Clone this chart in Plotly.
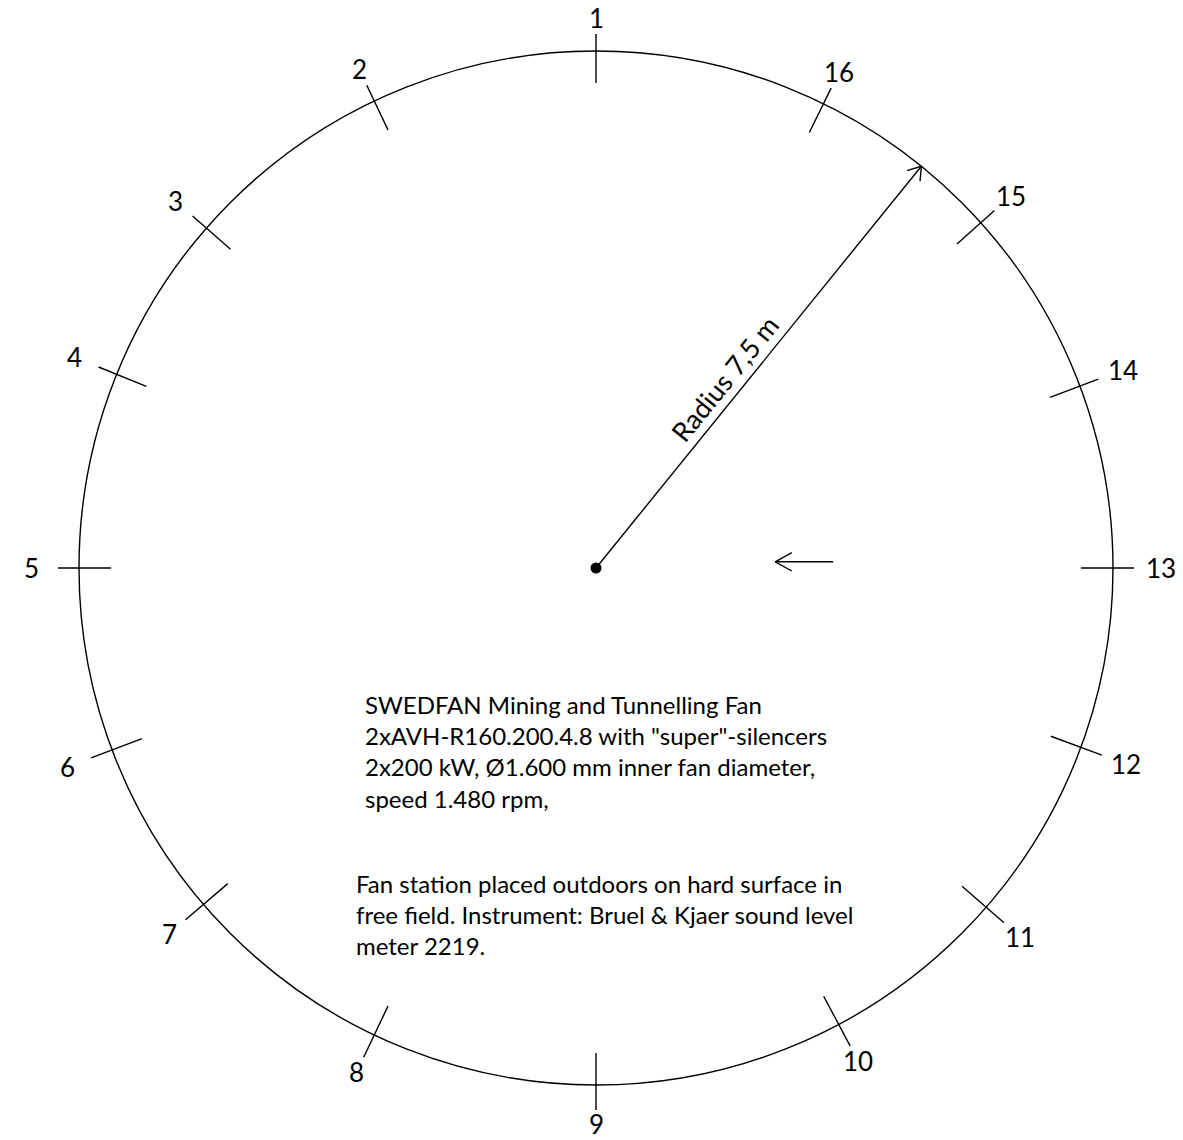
import numpy as np
import plotly.graph_objects as go

# ---- data ----
position_labels = ["1", "2", "3", "4", "5", "6", "7", "8",
                   "9", "10", "11", "12", "13", "14", "15", "16"]
position_angles_deg = [90, 115.4, 138.9, 158, 180, 200.6, 220.6, 244.6,
                       270, 298, 319, 339.7, 0, 20.6, 41.9, 63.9]
radius_m = 7.5
radius_line_angle_deg = 51
radius_label = "Radius 7,5 m"
flow_arrow_x = [3.44, 2.60]   # airflow direction arrow (tail -> head), m
flow_arrow_y = [0.09, 0.09]
text_block_1 = ["SWEDFAN Mining and Tunnelling Fan",
                "2xAVH-R160.200.4.8 with \"super\"-silencers",
                "2x200 kW, Ø1.600 mm inner fan diameter,",
                "speed 1.480 rpm,"]
text_block_2 = ["Fan station placed outdoors on hard surface in",
                "free field. Instrument: Bruel & Kjaer sound level",
                "meter 2219."]

# ---- geometry / style ----
W, H = 1183, 1140
cx_px, cy_px = 596, 568
scale = 517 / radius_m          # px per metre
FONT = "Lato"
LW = 1.4

fig = go.Figure()


def m_x(px):
    return (px - cx_px) / scale


def m_y(py):
    return (cy_px - py) / scale


def add_line(xs, ys, width=LW):
    fig.add_trace(go.Scatter(x=xs, y=ys, mode="lines",
                             line=dict(color="black", width=width),
                             hoverinfo="skip", showlegend=False))


def add_head(tip_x, tip_y, ang_deg, length_px, half_deg):
    L = length_px / scale
    xs, ys = [], []
    for s in (+1, -1):
        a = np.radians(ang_deg + 180 + s * half_deg)
        xs += [tip_x + L * np.cos(a), tip_x, None]
        ys += [tip_y + L * np.sin(a), tip_y, None]
    add_line(xs, ys)


# circle
fig.add_shape(type="circle", xref="x", yref="y",
              x0=-radius_m, y0=-radius_m, x1=radius_m, y1=radius_m,
              line=dict(color="black", width=LW))

# ticks and labels
for lab, ang in zip(position_labels, position_angles_deg):
    a = np.radians(ang)
    r0 = radius_m - 32 / scale
    r1 = radius_m + (21 - 4 * np.sin(a)) / scale
    add_line([r0 * np.cos(a), r1 * np.cos(a)], [r0 * np.sin(a), r1 * np.sin(a)])
    lab_r = (553 + 12 * np.cos(a) ** 2 - 3 * np.sin(a)) / scale
    fig.add_annotation(x=lab_r * np.cos(a), y=lab_r * np.sin(a), text=lab,
                       showarrow=False, xanchor="center", yanchor="middle",
                       font=dict(family=FONT, size=26, color="black"))

# radius line with arrow
ra = np.radians(radius_line_angle_deg)
tipx, tipy = radius_m * np.cos(ra), radius_m * np.sin(ra)
add_line([0, tipx], [0, tipy])
add_head(tipx, tipy, radius_line_angle_deg, 15, 34)

# centre dot
fig.add_trace(go.Scatter(x=[0], y=[0], mode="markers",
                         marker=dict(color="black", size=11),
                         hoverinfo="skip", showlegend=False))

# radius label
along = 228 / scale
perp = 19 / scale
lx = along * np.cos(ra) - perp * np.sin(ra)
ly = along * np.sin(ra) + perp * np.cos(ra)
fig.add_annotation(x=lx, y=ly, text=radius_label, showarrow=False,
                   textangle=-radius_line_angle_deg,
                   xanchor="center", yanchor="middle",
                   font=dict(family=FONT, size=27, color="black"))

# airflow arrow
add_line(flow_arrow_x, flow_arrow_y)
add_head(flow_arrow_x[1], flow_arrow_y[1], 180, 19, 29)

# text blocks
fig.add_annotation(x=m_x(363), y=m_y(688),
                   text="<br>".join(text_block_1), showarrow=False,
                   xanchor="left", yanchor="top", align="left",
                   font=dict(family=FONT, size=24, color="black"))
fig.add_annotation(x=m_x(354), y=m_y(867),
                   text="<br>".join(text_block_2), showarrow=False,
                   xanchor="left", yanchor="top", align="left",
                   font=dict(family=FONT, size=24, color="black"))

fig.update_layout(
    width=W, height=H, margin=dict(l=0, r=0, t=0, b=0),
    paper_bgcolor="white", plot_bgcolor="white", showlegend=False,
    hovermode=False,
    xaxis=dict(range=[-cx_px / scale, (W - cx_px) / scale], visible=False,
               fixedrange=True),
    yaxis=dict(range=[-(H - cy_px) / scale, cy_px / scale], visible=False,
               fixedrange=True),
)

fig.write_html("out.html",
               config={"displayModeBar": False, "staticPlot": True},
               post_script="document.body.style.margin='0';"
                           "document.body.style.overflow='hidden';")
